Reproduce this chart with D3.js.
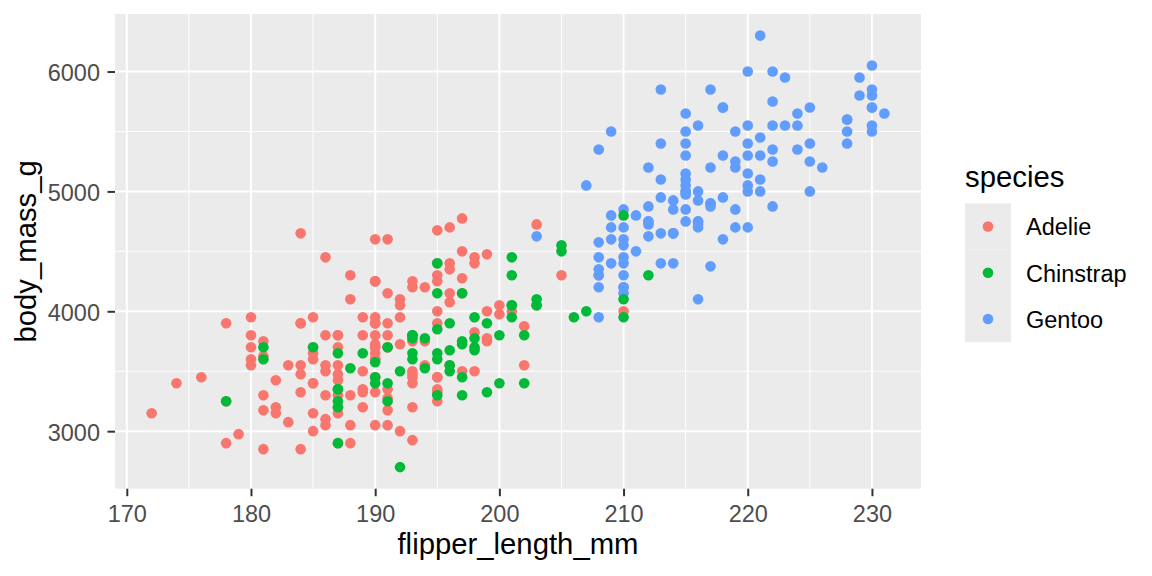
<!DOCTYPE html>
<html>
<head>
<meta charset="utf-8">
<script src="https://cdn.jsdelivr.net/npm/d3@7"></script>
<style>
  body { margin: 0; background: #fff; }
  svg { display: block; font-family: "Liberation Sans", Arial, sans-serif; }
</style>
</head>
<body>
<div class="chart"></div>
<script>
// species, drawn in data order (Adelie, Gentoo, Chinstrap)
const species = ["Adelie", "Chinstrap", "Gentoo"]
const speciesColors = ["#F8766D", "#00BA38", "#619CFF"]

const adelieFlipper = [181,186,195,193,190,181,195,193,190,186,180,182,191,198,185,195,197,184,194,174,
  180,189,185,180,187,183,187,172,180,178,178,188,184,195,196,190,180,181,184,182,
  195,186,196,185,190,182,179,190,191,186,188,190,200,187,191,186,193,181,194,185,
  195,185,192,184,192,195,188,190,198,190,190,196,197,190,195,191,184,187,195,189,
  196,187,193,191,194,190,189,189,190,202,205,185,186,187,208,190,196,178,192,192,
  203,183,190,193,184,199,190,181,197,198,191,193,197,191,196,188,199,189,189,187,
  198,176,202,186,199,191,195,191,210,190,197,193,199,187,190,191,200,185,193,193,
  187,188,190,192,185,190,184,195,193,187,201]
const adelieMass = [3750,3800,3250,3450,3650,3625,4675,3475,4250,3300,3700,3200,3800,4400,3700,3450,4500,3325,4200,3400,
  3600,3800,3950,3800,3800,3550,3200,3150,3950,3250,3900,3300,3900,3325,4150,3950,3550,3300,4650,3150,
  3900,3100,4400,3000,4600,3425,2975,3450,4150,3500,4300,3450,4050,2900,3700,3550,3800,2850,3750,3150,
  4400,3600,4050,2850,3950,3350,4100,3050,4450,3600,3900,3550,4150,3700,4250,3700,3900,3550,4000,3200,
  4700,3800,4200,3350,3550,3800,3500,3950,3600,3550,4300,3400,4450,3300,4300,3700,4350,2900,4100,3725,
  4725,3075,4250,2925,3550,3750,3900,3175,4775,3825,4600,3200,4275,3900,4075,2900,3775,3350,3325,3150,
  3500,3450,3875,3050,4000,3275,4300,3050,4000,3325,3500,3500,4475,3425,3900,3175,3975,3400,4250,3400,
  3475,3050,3725,3000,3650,4250,3475,3450,3750,3700,4000]

const gentooFlipper = [211,230,210,218,215,210,211,219,209,215,214,216,214,213,210,217,210,221,209,222,
  218,215,213,215,215,215,216,215,210,220,222,209,207,230,220,220,213,219,208,208,
  208,225,210,216,222,217,210,225,213,215,210,220,210,225,217,220,208,220,208,224,
  208,221,214,231,219,230,214,229,220,223,216,221,221,217,216,230,209,220,215,223,
  212,221,212,224,212,228,218,218,212,230,218,228,212,224,214,226,216,222,203,225,
  219,228,215,228,216,215,210,219,208,209,216,229,213,230,217,230,217,222,214,215,
  222,212,213]
const gentooMass = [4500,5700,4450,5700,5400,4550,4800,5200,4400,5150,4650,5550,4650,5850,4200,5850,4150,6300,4800,5350,
  5700,5000,4400,5050,5000,5100,4100,5650,4600,5550,5250,4700,5050,6050,5150,5400,4950,5250,4350,5350,
  3950,5700,4300,4750,5550,4900,4200,5400,5100,5300,4850,5300,4400,5000,4900,5050,4300,5000,4450,5550,
  4200,5300,4400,5650,4700,5700,4650,5800,4700,5550,4750,5000,5100,5200,4700,5800,4600,6000,4750,5950,
  4625,5450,4725,5350,4750,5600,4600,5300,4875,5550,4950,5400,4750,5650,4850,5200,4925,4875,4625,5250,
  4850,5600,4975,5500,4725,5500,4700,5500,4575,5500,5000,5950,4650,5500,4375,5850,4875,6000,4925,4850,
  5750,5200,5400]

const chinstrapFlipper = [192,196,193,188,197,198,178,197,195,198,193,194,185,201,190,201,197,181,190,195,
  181,191,187,193,195,197,200,200,191,205,187,201,187,203,195,199,195,210,192,205,
  210,187,196,196,196,201,190,212,187,198,199,201,193,203,187,197,191,203,202,194,
  206,189,195,207,202,193,210,198]
const chinstrapMass = [3500,3900,3650,3525,3725,3950,3250,3750,4150,3700,3800,3775,3700,4050,3575,4050,3300,3700,3450,4400,
  3600,3400,2900,3800,3300,4150,3400,3800,3700,4550,3200,4300,3350,4100,3600,3900,3850,4800,2700,4500,
  3950,3650,3550,3500,3675,4450,3400,4300,3250,3675,3325,3950,3600,4050,3350,3450,3250,4050,3800,3525,
  3950,3650,3650,4000,3400,3775,4100,3775]

const xTicks = [170, 180, 190, 200, 210, 220, 230]
const xMinor = [175, 185, 195, 205, 215, 225]
const yTicks = [3000, 4000, 5000, 6000]
const yMinor = [3500, 4500, 5500]

const width = 1152
const height = 576
const panel = { left: 115, right: 921, top: 14, bottom: 488.7 }

const color = d3.scaleOrdinal().domain(species).range(speciesColors)

// ggplot default 5% expansion
const xExt = d3.extent([].concat(adelieFlipper, gentooFlipper, chinstrapFlipper))
const yExt = d3.extent([].concat(adelieMass, gentooMass, chinstrapMass))
const xPad = (xExt[1] - xExt[0]) * 0.05
const yPad = (yExt[1] - yExt[0]) * 0.05
const x = d3.scaleLinear().domain([xExt[0] - xPad, xExt[1] + xPad]).range([panel.left, panel.right])
const y = d3.scaleLinear().domain([yExt[0] - yPad, yExt[1] + yPad]).range([panel.bottom, panel.top])

// build point rows in data order
const points = []
adelieFlipper.forEach((f, i) => points.push({ species: "Adelie", flipper: f, mass: adelieMass[i] }))
gentooFlipper.forEach((f, i) => points.push({ species: "Gentoo", flipper: f, mass: gentooMass[i] }))
chinstrapFlipper.forEach((f, i) => points.push({ species: "Chinstrap", flipper: f, mass: chinstrapMass[i] }))

const svg = d3.select(".chart").append("svg").attr("width", width).attr("height", height)

// panel background
svg.append("rect")
  .attr("x", panel.left).attr("y", panel.top)
  .attr("width", panel.right - panel.left).attr("height", panel.bottom - panel.top)
  .attr("fill", "#EBEBEB")

// minor grid
svg.selectAll(".xminor").data(xMinor).enter().append("line")
  .attr("x1", d => x(d)).attr("x2", d => x(d))
  .attr("y1", panel.top).attr("y2", panel.bottom)
  .attr("stroke", "#fff").attr("stroke-width", 1)
svg.selectAll(".yminor").data(yMinor).enter().append("line")
  .attr("x1", panel.left).attr("x2", panel.right)
  .attr("y1", d => y(d)).attr("y2", d => y(d))
  .attr("stroke", "#fff").attr("stroke-width", 1)

// major grid
svg.selectAll(".xmajor").data(xTicks).enter().append("line")
  .attr("x1", d => x(d)).attr("x2", d => x(d))
  .attr("y1", panel.top).attr("y2", panel.bottom)
  .attr("stroke", "#fff").attr("stroke-width", 2)
svg.selectAll(".ymajor").data(yTicks).enter().append("line")
  .attr("x1", panel.left).attr("x2", panel.right)
  .attr("y1", d => y(d)).attr("y2", d => y(d))
  .attr("stroke", "#fff").attr("stroke-width", 2)

// points
svg.append("g").selectAll("circle")
  .data(points)
  .enter()
  .append("circle")
  .attr("cx", d => x(d.flipper))
  .attr("cy", d => y(d.mass))
  .attr("r", 5.3)
  .attr("fill", d => color(d.species))

// axes
const xAxis = svg.append("g")
  .attr("transform", "translate(0," + panel.bottom + ")")
  .call(d3.axisBottom(x).tickValues(xTicks).tickSize(7.5).tickPadding(9.6))
const yAxis = svg.append("g")
  .attr("transform", "translate(" + panel.left + ",0)")
  .call(d3.axisLeft(y).tickValues(yTicks).tickFormat(d3.format("d")).tickSize(7.5).tickPadding(7.5))

;[xAxis, yAxis].forEach(a => {
  a.select(".domain").remove()
  a.selectAll(".tick line").attr("stroke", "#333333").attr("stroke-width", 2)
  a.selectAll(".tick text")
    .attr("fill", "#4D4D4D")
    .style("font-size", "23.5px")
    .style("font-family", "'Liberation Sans', Arial, sans-serif")
})
yAxis.selectAll(".tick text").attr("dy", "0.4em")

// axis titles
svg.append("text")
  .attr("x", (panel.left + panel.right) / 2)
  .attr("y", 554)
  .attr("text-anchor", "middle")
  .style("font-size", "29.3px")
  .attr("fill", "#000")
  .text("flipper_length_mm")

svg.append("text")
  .attr("transform", "translate(36," + (panel.top + panel.bottom) / 2 + ") rotate(-90)")
  .attr("text-anchor", "middle")
  .style("font-size", "29.3px")
  .attr("fill", "#000")
  .text("body_mass_g")

// legend
const legend = svg.append("g").attr("transform", "translate(965,0)")
legend.append("text")
  .attr("x", 0).attr("y", 187)
  .style("font-size", "29.3px")
  .attr("fill", "#000")
  .text("species")

const keyH = 46.3
const legendItems = legend.selectAll(".legend-item")
  .data(species)
  .enter()
  .append("g")
  .attr("class", "legend-item")
  .attr("transform", (d, i) => "translate(0," + (203.3 + i * keyH) + ")")

legendItems.append("rect")
  .attr("width", 46).attr("height", keyH)
  .attr("fill", "#EBEBEB")
legendItems.append("circle")
  .attr("cx", 23).attr("cy", keyH / 2)
  .attr("r", 5.3)
  .attr("fill", d => color(d))
legendItems.append("text")
  .attr("x", 61).attr("y", keyH / 2 + 9)
  .style("font-size", "23.5px")
  .attr("fill", "#000")
  .text(d => d)
</script>
</body>
</html>
